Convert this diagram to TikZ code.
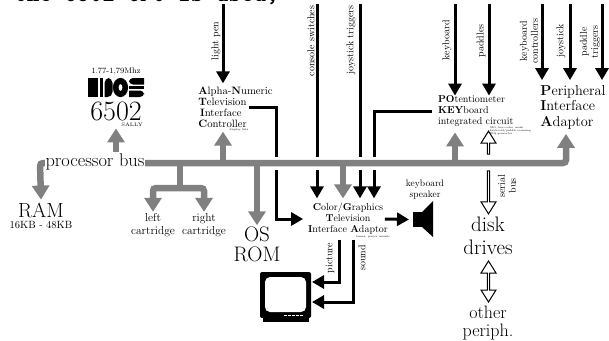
\documentclass[tikz,border=0pt]{standalone}
\usepackage{tikz}
\usetikzlibrary{arrows.meta,shapes.arrows}
\tikzset{
    txt/.style={inner sep=1pt, align=center, font=\fontsize{10}{11}\selectfont},
    bigtxt/.style={inner sep=1pt, align=center, font=\fontsize{21}{23}\selectfont},
    chiptxt/.style={inner sep=1pt, align=left, font=\fontsize{10}{10.9}\selectfont},
    tinytxt/.style={inner sep=0pt, align=left, font=\fontsize{2.6}{3}\selectfont},
    sigline/.style={line width=3pt, -{Triangle[width=13pt,length=12pt]}},
    busline/.style={line width=6.5pt, gray, -{Triangle[width=17pt,length=14pt]}},
    holoup/.style={draw, line width=1pt, fill=white, single arrow, inner sep=0pt, minimum width=15pt,
        single arrow head extend=3pt, single arrow tip angle=64, rotate=#1},
    holodouble/.style={draw, line width=1pt, fill=white, double arrow, inner sep=0pt, minimum width=15pt,
        double arrow head extend=3pt, double arrow tip angle=64, rotate=90}
}
\begin{document}
\begin{tikzpicture}[x=1pt, y=-1pt, >=latex]

    \useasboundingbox (0,0) rectangle (609,340);

    % 1. Free ends and the corners of the bus
    \coordinate (busleft) at (40,163);
    \coordinate (busright) at (566,163);
    \coordinate (cartfork) at (180,188);
    \coordinate (osgate) at (343,163);
    \coordinate (lightpen) at (223,4);
    \coordinate (consoletop) at (317,4);
    \coordinate (joytop) at (360,4);
    \coordinate (keytop) at (455,4);
    \coordinate (paddletop) at (489,4);
    \coordinate (ctrltop) at (542,4);
    \coordinate (sticktop) at (570,4);
    \coordinate (trigtop) at (602,4);
    \coordinate (anticout) at (249,107);

    % 2. Texts
    \node[font=\fontsize{24}{24}\selectfont\ttfamily\bfseries, anchor=base west, inner sep=0pt] (title) at (14,1.5) {the 6502 CPU is used,};
    \node[txt, font=\fontsize{8}{9}\selectfont] (clock) at (116,71) {1.77-1,79Mhz};
    \node[txt, font=\fontsize{28}{28}\selectfont, outer sep=7pt] (cpu) at (116,111) {6502};
    \node[txt, font=\fontsize{5}{5}\selectfont] (sally) at (132,125) {SALLY};
    \node[chiptxt, font=\fontsize{10.7}{10.9}\selectfont, outer sep=3pt] (antic) at (235.5,107.5) {\textbf{A}lpha-\textbf{N}umeric\\\textbf{T}elevision\\\,\textbf{I}nterface\\\textbf{C}ontroller};
    \node[tinytxt] (anticnote) at (239,130) {display lists};
    \node[chiptxt, outer sep=5pt] (pokey) at (475.8,111) {\textbf{PO}tentiometer\\\textbf{KEY}board\\integrated circuit};
    \node[tinytxt] (pokeynote) at (510.5,131) {SIO, key-coder, mask\\keyboard/paddle scanning\\IRQ generator};
    \node[txt, font=\fontsize{14.4}{15.5}\selectfont, align=left, outer sep=4pt] (pia) at (573,107) {\textbf{P}eripheral\\\textbf{I}nterface\\\textbf{A}daptor};
    \node[chiptxt, align=center, outer sep=4pt] (gtia) at (348,219) {\textbf{C}olor/\textbf{G}raphics\\\textbf{T}elevision\\\textbf{I}nterface \textbf{A}daptor};
    \node[tinytxt] (gtianote) at (373,237) {lumen, player, missile};
    \node[bigtxt, font=\fontsize{20.5}{21}\selectfont, outer sep=2pt] (ram) at (41,210) {RAM};
    \node[txt, font=\fontsize{10.5}{11}\selectfont] (ramsize) at (41,225) {16KB - 48KB};
    \node[txt, font=\fontsize{11.5}{13}\selectfont, outer sep=1pt] (cartl) at (153,225.5) {left\\cartridge};
    \node[txt, font=\fontsize{11.5}{13}\selectfont, outer sep=1pt] (cartr) at (204,225.5) {right\\cartridge};
    \node[bigtxt, font=\fontsize{21}{20}\selectfont] (rom) at (257,244) {OS\\ROM};
    \node[txt, font=\fontsize{9.5}{11}\selectfont] (spktxt) at (425,189.5) {keyboard\\speaker};
    \node[bigtxt, outer sep=1pt] (disk) at (488,236) {disk\\drives};
    \node[bigtxt, font=\fontsize{18}{18.5}\selectfont] (other) at (488,323) {other\\periph.};

    % rotated labels
    \node[txt, rotate=90] (penlbl) at (216,41) {light pen};
    \node[txt, rotate=90] (conslbl) at (311,41) {console switches};
    \node[txt, rotate=90] (joylbl) at (351,40) {joystick triggers};
    \node[txt, rotate=90] (keylbl) at (447,40) {keyboard};
    \node[txt, rotate=90] (padlbl) at (481,41) {paddles};
    \node[txt, rotate=90] (ctrllbl) at (529,41) {keyboard\\controllers};
    \node[txt, rotate=90] (sticklbl) at (561,41) {joystick};
    \node[txt, rotate=90] (triglbl) at (590,42) {paddle\\triggers};
    \node[txt, rotate=90] (piclbl) at (330,258) {picture};
    \node[txt, rotate=90] (sndlbl) at (362,258) {sound};
    \node[txt, rotate=90] (serlbl) at (507,186) {serial\\bus};

    % 3. The MOS logo and the speaker and the television
    \fill (88,78) rectangle (98,97);
    \fill (99.5,78) rectangle (103,97);
    \fill[rounded corners=5pt] (104.5,97) -- (104.5,78) -- (112.5,78) -- (112.5,97) [sharp corners] -- cycle;
    \fill[even odd rule] (120.5,87.5) circle [x radius=7.6, y radius=9.6] (120.5,87.5) circle [x radius=2, y radius=3.5];
    \fill[rounded corners=4pt] (144,84.5) [sharp corners] -- (144,78) [rounded corners=4pt] -- (129,78) -- (129,84.5) [sharp corners] -- cycle;
    \fill (129,86) rectangle (144,89);
    \fill[rounded corners=4pt] (129,90.5) [sharp corners] -- (129,97) [rounded corners=4pt] -- (144,97) -- (144,90.5) [sharp corners] -- cycle;

    \node[fill=black, inner sep=0pt, minimum width=9pt, minimum height=15pt, outer sep=4pt] (speaker) at (417.5,219.5) {};
    \fill (422,212) -- (433,201) -- (433,237) -- (422,227) -- cycle;

    \node[fill=black, rounded corners=2pt, inner sep=0pt, minimum width=51pt, minimum height=46pt, outer sep=1pt] (tv) at (285.5,295) {};
    \node[fill=white, rounded corners=5pt, inner sep=0pt, minimum width=41pt, minimum height=35pt] (screen) at (285.5,294.5) {};
    \fill (263,318) rectangle (309,322);
    \draw[white, line width=1.5pt, dash pattern=on 3pt off 1pt] (284,315.5) -- (304,315.5);

    % 4. Black signal lines, they are cut off around the bus
    \draw[sigline] (lightpen) -- (lightpen |- antic.north);
    \draw[sigline, shorten >=-6pt] (keytop) -- (keytop |- pokey.north);
    \draw[sigline, shorten >=-6pt] (paddletop) -- (paddletop |- pokey.north);
    \draw[sigline] (ctrltop) -- (ctrltop |- pia.north);
    \draw[sigline] (sticktop) -- (sticktop |- pia.north);
    \draw[sigline] (trigtop) -- (trigtop |- pia.north);
    \draw[sigline] (consoletop) -- (consoletop |- gtia.north);
    \draw[sigline] (joytop) -- (joytop |- gtia.north);
    \draw[sigline] (pokey.west) -| ([xshift=26pt]gtia.north);
    \draw[sigline] (anticout) -| ([xshift=-27pt]gtia.west) -- (gtia.west);
    \draw[sigline] ([xshift=-8pt]gtia.east) -- (speaker.west);
    \draw[sigline] ([xshift=-9pt]gtia.south) |- ([yshift=13pt]tv.east);
    \draw[sigline] ([xshift=5pt]gtia.south) |- ([yshift=-7pt]tv.east);

    \draw[white, line width=13pt] (busleft) -- (busright);

    % 5. The grey bus with what hangs on it
    \draw[busline, {Triangle[width=17pt,length=14pt]}-{Triangle[width=17pt,length=14pt]}, rounded corners=3pt]
        (ram.north) -- (busleft) -- (busright) -- (pia.south -| busright);
    \draw[busline] (busleft -| cpu.south) -- (cpu.south);
    \draw[busline] (busleft -| lightpen) -- (lightpen |- antic.south);
    \draw[busline] (busleft -| keytop) -- (keytop |- pokey.south);
    \draw[busline, -] (busleft -| cartfork) -- (cartfork);
    \draw[busline, rounded corners=3pt] (cartfork) -| (cartl.north);
    \draw[busline, rounded corners=3pt] (cartfork) -| (cartr.north);
    \draw[busline] (busleft -| rom.north) -- (rom.north);
    \draw[busline] (osgate) -- (gtia.north -| osgate);

    \node[bigtxt, font=\fontsize{18.4}{18.4}\selectfont, fill=white] (buslbl) at (95,161.5) {processor bus};

    % 6. Hollow arrows
    \node[holoup=90, minimum height=23pt] (keyscan) at (488.5,143.5) {};
    \node[holoup=-90, minimum height=43pt] (serial) at (488.5,191.5) {};
    \node[holodouble, minimum height=41pt] (periph) at (488.5,281.5) {};

\end{tikzpicture}
\end{document}
